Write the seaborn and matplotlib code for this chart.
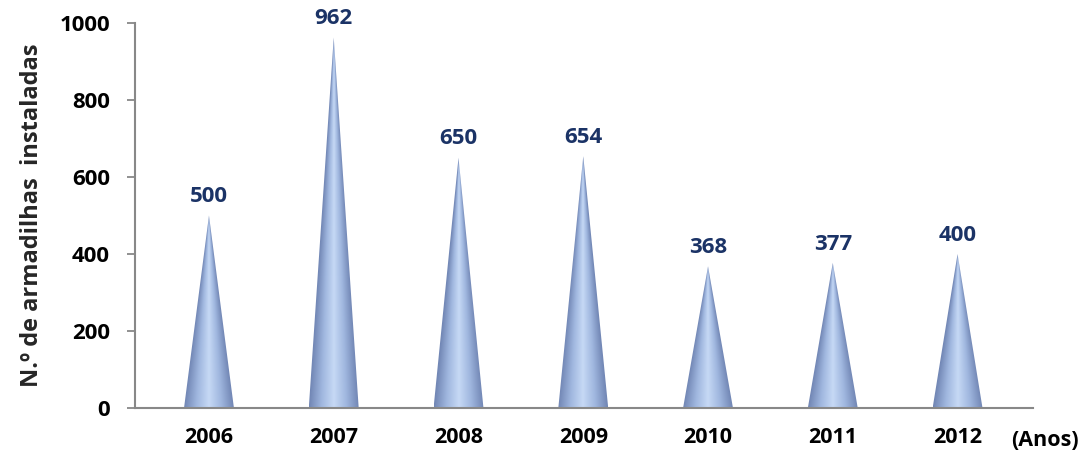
import numpy as np
import pandas as pd
import matplotlib
matplotlib.use("Agg")
import matplotlib.pyplot as plt
from matplotlib.colors import LinearSegmentedColormap
from matplotlib.patches import Polygon
import seaborn as sns

# Traps installed per year
years = ["2006", "2007", "2008", "2009", "2010", "2011", "2012"]
traps = [500, 962, 650, 654, 368, 377, 400]
yticks = [0, 200, 400, 600, 800, 1000]

sns.set_theme(style="white")
plt.rcParams["font.family"] = ["Open Sans", "DejaVu Sans"]
plt.rcParams["font.weight"] = "bold"

df = pd.DataFrame({"year": years, "traps": traps})

fig = plt.figure(figsize=(10.86, 4.59), dpi=100)
ax = fig.add_axes([0.1243, 0.111, 0.8267, 0.839])

# Invisible bars give the categorical positions and heights
sns.barplot(data=df, x="year", y="traps", width=0.4, ax=ax,
            facecolor="none", edgecolor="none")

cone_cmap = LinearSegmentedColormap.from_list(
    "cone", ["#7287b5", "#a0b7df", "#c6d9f5", "#a0b7df", "#7287b5"])

label_color = "#1b3366"
for patch, val in zip(ax.patches, traps):
    x0 = patch.get_x()
    w = patch.get_width()
    h = patch.get_height()
    cx = x0 + w / 2
    # cone outline: base on the axis, apex at the value
    tri = Polygon([(x0, 0), (cx, h), (x0 + w, 0)], closed=True,
                  facecolor="none", edgecolor="none")
    ax.add_patch(tri)
    # shading follows the cone's local width at each height
    nx, ny = 200, 300
    xs = np.linspace(x0, x0 + w, nx)
    ys = np.linspace(0, h, ny)
    X, Y = np.meshgrid(xs, ys)
    half = (w / 2) * np.clip(1 - Y / h, 1e-3, None)
    u = np.clip((X - cx) / half, -1, 1)
    shade = (u + 1) / 2
    im = ax.imshow(shade, cmap=cone_cmap, vmin=0, vmax=1, origin="lower",
                   extent=(x0, x0 + w, 0, h), aspect="auto",
                   interpolation="bilinear", zorder=2)
    im.set_clip_path(tri)
    ax.annotate(f"{val}", xy=(cx, h), xytext=(0, 6), textcoords="offset points",
                ha="center", va="bottom", fontsize=16, fontweight="bold",
                color=label_color)

ax.set_xlim(-0.593, 6.603)
ax.set_ylim(0, 1000)
ax.set_yticks(yticks)
ax.set_yticklabels([str(t) for t in yticks])
ax.set_xlabel("")
ax.set_ylabel("N.º de armadilhas  instaladas", fontsize=17, fontweight="bold",
              labelpad=11)

for side in ["top", "right"]:
    ax.spines[side].set_visible(False)
for side in ["left", "bottom"]:
    ax.spines[side].set_color("#888888")
    ax.spines[side].set_linewidth(1.5)

ax.tick_params(axis="y", which="major", left=True, length=6, width=1.3,
               color="#888888", pad=12, labelsize=16)
ax.tick_params(axis="x", bottom=False, length=0, pad=14, labelsize=15.5)
for lab in ax.get_xticklabels() + ax.get_yticklabels():
    lab.set_fontweight("bold")
    lab.set_color("black")

fig.text(1045 / 1086, 1 - 441 / 459, "(Anos)", ha="center", va="center",
         fontsize=15.5, fontweight="bold", color="black")

fig.savefig("out.png", dpi=100)
